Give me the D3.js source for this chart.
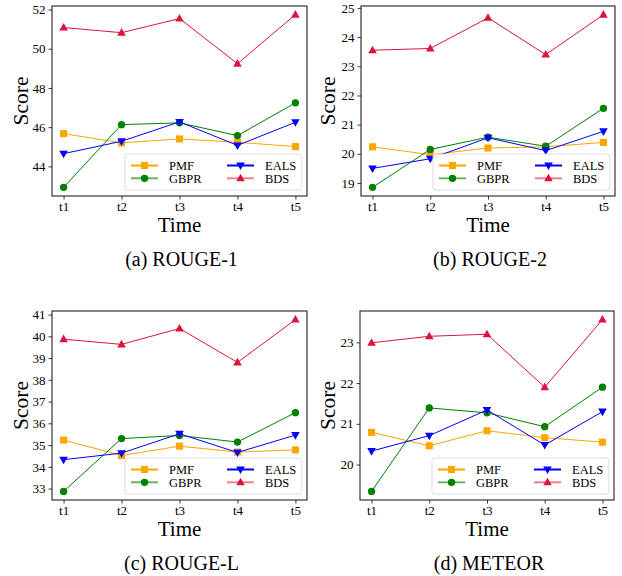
<!DOCTYPE html>
<html>
<head>
<meta charset="utf-8">
<script src="https://cdn.jsdelivr.net/npm/d3@7"></script>
<style>
  html, body { margin: 0; padding: 0; background: #fff; }
  svg { display: block; }
  text { font-family: "Liberation Serif", "Times New Roman", serif; fill: #000; }
</style>
</head>
<body>
<svg id="chart" width="622" height="576"></svg>
<script>
// ---------- data ----------
const times = ["t1", "t2", "t3", "t4", "t5"];
const seriesNames = ["PMF", "GBPR", "EALS", "BDS"];

const rouge1PMF  = [45.67, 45.20, 45.40, 45.23, 45.01];
const rouge1GBPR = [42.93, 46.13, 46.22, 45.57, 47.24];
const rouge1EALS = [44.65, 45.28, 46.27, 45.07, 46.25];
const rouge1BDS  = [51.08, 50.82, 51.54, 49.24, 51.74];
const rouge1Ticks = [44, 46, 48, 50, 52];

const rouge2PMF  = [20.24, 19.97, 20.20, 20.24, 20.39];
const rouge2GBPR = [18.85, 20.15, 20.57, 20.26, 21.56];
const rouge2EALS = [19.50, 19.83, 20.55, 20.11, 20.77];
const rouge2BDS  = [23.55, 23.61, 24.66, 23.40, 24.77];
const rouge2Ticks = [19, 20, 21, 22, 23, 24, 25];

const rougeLPMF  = [35.23, 34.52, 34.95, 34.68, 34.78];
const rougeLGBPR = [32.87, 35.30, 35.44, 35.14, 36.49];
const rougeLEALS = [34.33, 34.63, 35.52, 34.66, 35.46];
const rougeLBDS  = [39.87, 39.63, 40.36, 38.80, 40.77];
const rougeLTicks = [33, 34, 35, 36, 37, 38, 39, 40, 41];

const meteorPMF  = [20.79, 20.46, 20.83, 20.66, 20.55];
const meteorGBPR = [19.34, 21.39, 21.27, 20.93, 21.90];
const meteorEALS = [20.33, 20.71, 21.34, 20.48, 21.30];
const meteorBDS  = [22.99, 23.15, 23.20, 21.90, 23.56];
const meteorTicks = [20, 21, 22, 23];

const captions = ["(a) ROUGE-1", "(b) ROUGE-2", "(c) ROUGE-L", "(d) METEOR"];
const xLabel = "Time";
const yLabel = "Score";

// ---------- styles ----------
const colors = { PMF: "#FFA500", GBPR: "#008000", EALS: "#0000FF", BDS: "#DC143C" };
const symbols = { PMF: d3.symbolSquare, GBPR: d3.symbolCircle, EALS: "tri-down", BDS: "tri-up" };
const legendAlpha = { PMF: 1, GBPR: 0.6, EALS: 1, BDS: 0.55 };

const panels = [
  { series: [rouge1PMF, rouge1GBPR, rouge1EALS, rouge1BDS], ticks: rouge1Ticks, caption: captions[0],
    box: { l: 52, r: 307, t: 6, b: 196 }, yLabelX: 21, timeY: 232, capY: 266 },
  { series: [rouge2PMF, rouge2GBPR, rouge2EALS, rouge2BDS], ticks: rouge2Ticks, caption: captions[1],
    box: { l: 361, r: 615, t: 6, b: 196 }, yLabelX: 328, timeY: 232, capY: 266 },
  { series: [rougeLPMF, rougeLGBPR, rougeLEALS, rougeLBDS], ticks: rougeLTicks, caption: captions[2],
    box: { l: 52, r: 307, t: 311, b: 500 }, yLabelX: 21, timeY: 536, capY: 570 },
  { series: [meteorPMF, meteorGBPR, meteorEALS, meteorBDS], ticks: meteorTicks, caption: captions[3],
    box: { l: 360, r: 614, t: 311, b: 500 }, yLabelX: 328, timeY: 536, capY: 570 }
];

const svg = d3.select("#chart");

function markerPath(name) {
  const s = symbols[name];
  if (s === "tri-up") return "M0,-4.6L4.3,3L-4.3,3Z";
  if (s === "tri-down") return "M0,4.6L4.3,-3L-4.3,-3Z";
  if (s === d3.symbolSquare) return d3.symbol().type(s).size(50)();
  return d3.symbol().type(s).size(42)();
}

panels.forEach(p => {
  const { l, r, t, b } = p.box;
  const g = svg.append("g");
  const all = p.series.flat();
  const mn = d3.min(all), mx = d3.max(all), pad = (mx - mn) * 0.05;

  const x = d3.scalePoint().domain(times).range([l, r]).padding(0.2);
  const y = d3.scaleLinear().domain([mn - pad, mx + pad]).range([b, t]);

  // axes
  const xAxis = g.append("g").attr("transform", `translate(0,${b})`)
    .call(d3.axisBottom(x).tickSize(3.5).tickPadding(2.5));
  const yAxis = g.append("g").attr("transform", `translate(${l},0)`)
    .call(d3.axisLeft(y).tickValues(p.ticks).tickFormat(d3.format("d")).tickSize(3.5).tickPadding(3));
  [xAxis, yAxis].forEach(a => {
    a.select(".domain").remove();
    a.selectAll(".tick line").attr("stroke", "#222").attr("stroke-width", 0.9);
    a.selectAll(".tick text").style("font-family", "'Liberation Serif', serif")
      .style("font-size", "13px").attr("fill", "#000");
  });

  // lines and markers
  seriesNames.forEach((name, i) => {
    const vals = p.series[i];
    const line = d3.line().x((d, j) => x(times[j])).y(d => y(d));
    g.append("path").datum(vals).attr("d", line)
      .attr("fill", "none").attr("stroke", colors[name]).attr("stroke-width", 1);
    g.selectAll(null).data(vals).enter().append("path")
      .attr("d", markerPath(name))
      .attr("transform", (d, j) => `translate(${x(times[j])},${y(d)})`)
      .attr("fill", colors[name]);
  });

  // frame
  g.append("rect").attr("x", l).attr("y", t).attr("width", r - l).attr("height", b - t)
    .attr("fill", "none").attr("stroke", "#222").attr("stroke-width", 1.1);

  // legend
  const lw = 177, lh = 36;
  const lx = r - 5 - lw, ly = b - 6 - lh;
  const lg = g.append("g").attr("transform", `translate(${lx},${ly})`);
  lg.append("rect").attr("width", lw).attr("height", lh).attr("rx", 2.5)
    .attr("fill", "#fff").attr("fill-opacity", 0.85).attr("stroke", "#d6d6d6").attr("stroke-width", 0.9);
  const legendOrder = [["PMF", 0, 0], ["GBPR", 0, 1], ["EALS", 1, 0], ["BDS", 1, 1]];
  legendOrder.forEach(([name, col, row]) => {
    const hx = 6 + col * 96, hy = 11.5 + row * 12.8;
    lg.append("line").attr("x1", hx).attr("x2", hx + 27).attr("y1", hy).attr("y2", hy)
      .attr("stroke", colors[name]).attr("stroke-width", 2).attr("stroke-opacity", legendAlpha[name]);
    lg.append("path").attr("d", markerPath(name))
      .attr("transform", `translate(${hx + 13.5},${hy})`).attr("fill", colors[name]);
    lg.append("text").attr("x", hx + 38).attr("y", hy + 4.3)
      .style("font-size", "12.5px").text(name);
  });

  // labels
  g.append("text").attr("x", (l + r) / 2).attr("y", p.timeY).attr("text-anchor", "middle")
    .style("font-size", "21px").text(xLabel);
  g.append("text").attr("transform", `translate(${p.yLabelX + 7},${(t + b) / 2}) rotate(-90)`)
    .attr("text-anchor", "middle").style("font-size", "21.5px").text(yLabel);
  g.append("text").attr("x", (l + r) / 2 + 2).attr("y", p.capY).attr("text-anchor", "middle")
    .style("font-size", "20px").text(p.caption);
});
</script>
</body>
</html>
